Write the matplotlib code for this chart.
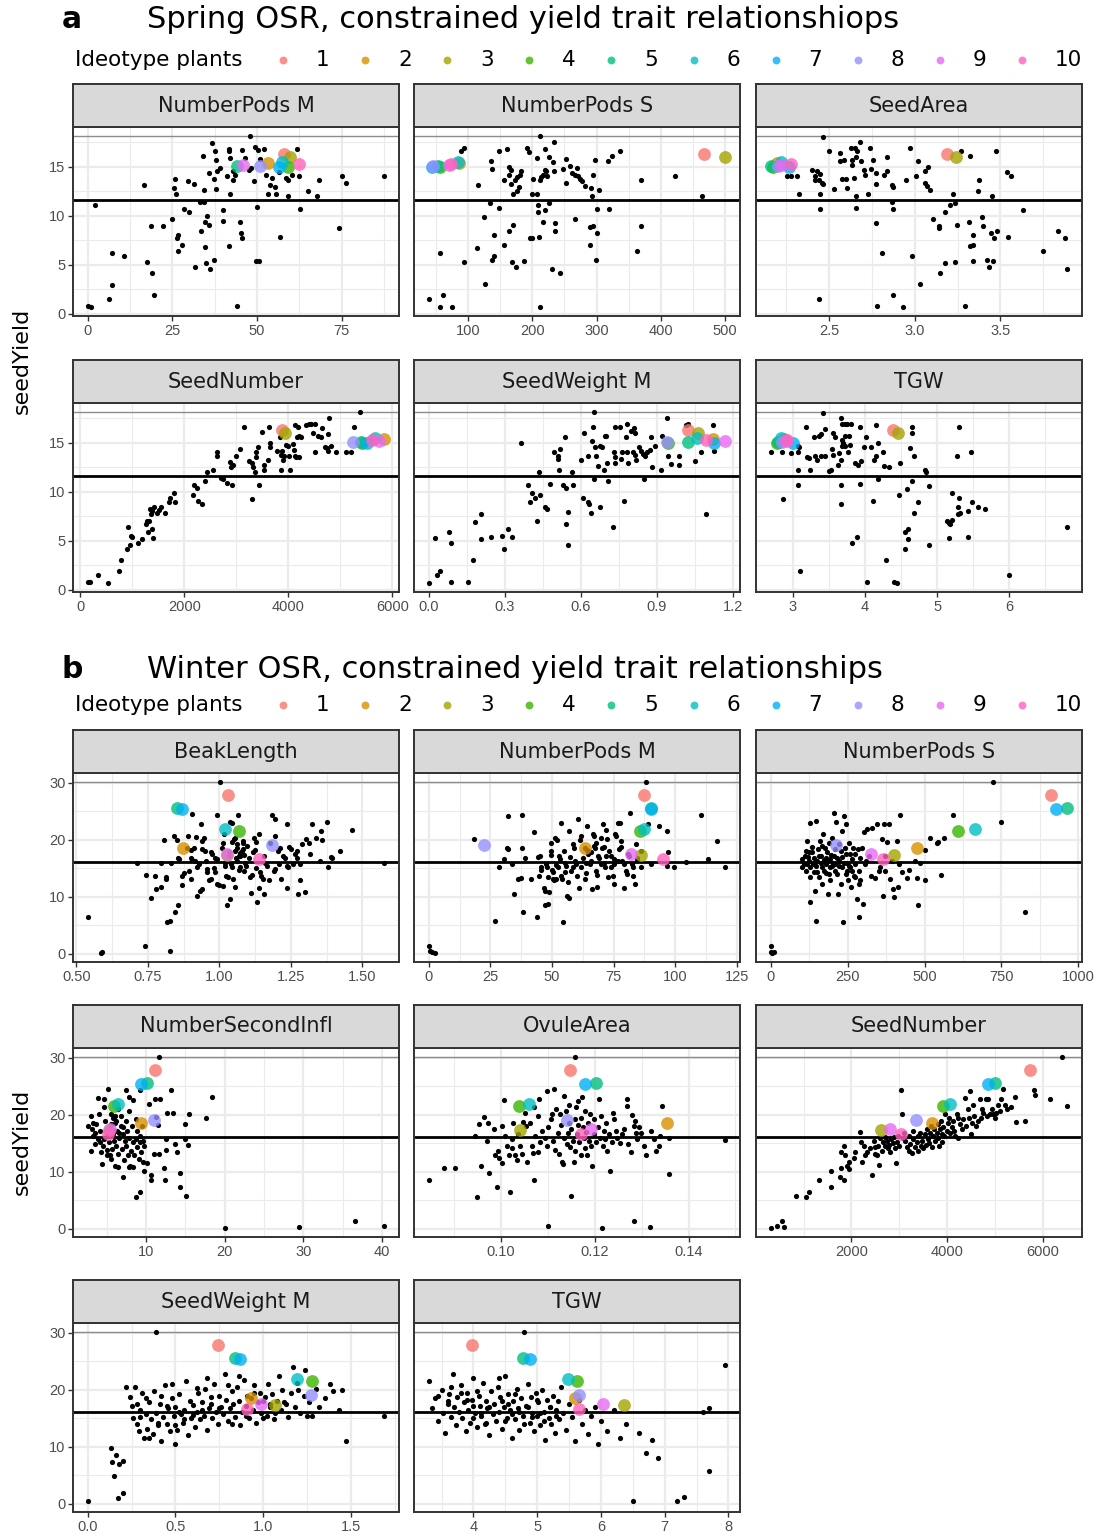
import matplotlib
matplotlib.use("Agg")
import matplotlib.pyplot as plt
import numpy as np

plt.rcParams['font.family'] = ['DejaVu Sans']

# ------------------------------------------------------------------ data
ideotype_labels = ['1', '2', '3', '4', '5', '6', '7', '8', '9', '10']
ideotype_colors = ['#F8766D', '#D89000', '#A3A500', '#39B600', '#00BF7D',
                   '#00BFC4', '#00B0F6', '#9590FF', '#E76BF3', '#FF62BC']

spring_title = "Spring OSR, constrained yield trait relationshiops"
winter_title = "Winter OSR, constrained yield trait relationships"
legend_title = "Ideotype plants"
y_label = "seedYield"

spring_yield_mean = 11.6
spring_yield_max = 18.2
winter_yield_mean = 16.2
winter_yield_max = 30.2

spring_yticks = [0, 5, 10, 15]
winter_yticks = [0, 10, 20, 30]

spring_ideotype_yield = [16.3, 15.4, 16.0, 15.0, 15.1, 15.5, 15.0, 15.1, 15.2, 15.3]
winter_ideotype_yield = [27.8, 18.5, 17.3, 21.5, 25.6, 21.9, 25.4, 19.1, 17.5, 16.6]

# ---- Spring panels: (trait, seedYield)
sp_podsM = [(0,0.8),(0.9,0.67),(2,11.1),(7.2,6.2),(7.2,2.9),(6.2,1.5),(10.7,5.9),(16.7,13.1),(17.5,5.3),(18.8,9.0),(19.1,4.2),(19.7,1.95),(22.2,9.0),(25,9.7),(25.7,13.8),(25.4,12.8),(26,12.2),(26.3,7.7),(26.6,8.0),(26.6,6.4),(27.8,7.0),(28.3,10.7),(29.6,13.6),(29.9,10.4),(31.3,13.3),(31.8,4.8),(33.2,11.4),(33.6,8.5),(34.1,16.1),(34.2,12.6),(34.3,11.4),(34.5,6.8),(34.7,9.4),(35,5.2),(35.3,10.0),(35.9,9.1),(36.2,4.6),(35.7,14.4),(36.7,17.4),(37.2,13.8),(37.2,5.5),(37.6,16.6),(37.8,15.7),(38,12.7),(38.2,14.6),(39.2,14.9),(39.9,9.5),(40.1,10.6),(41,14.1),(41.6,16.8),(41.8,16.6),(42.1,15.9),(42.1,12.2),(41.6,6.9),(42.8,14.6),(42.8,13.7),(43.6,14.2),(44.1,0.74),(45,9.4),(45.4,8.2),(45.7,7.7),(45.7,16.7),(46.4,15.9),(47.5,14.7),(48,18.2),(48.3,14.9),(49,13.6),(49.3,17.0),(49.6,5.4),(50.7,5.4),(50,10.9),(50.3,16.7),(51,15.8),(52.2,16.8),(52.6,14.2),(53.3,12.2),(53.9,13.1),(54.3,13.9),(55.3,12.9),(55.5,12.2),(56.6,14.5),(56.8,7.8),(58.6,13.9),(59.2,13.7),(59.3,12.0),(60.5,14.2),(61.8,16.8),(62.5,14.1),(62.8,10.7),(65.1,12.5),(67.8,12.0),(68.3,13.7),(74.2,8.8),(75,14.1),(76.3,13.4),(87.6,14.1)]
sp_podsM_ideo = [58.0, 53.3, 59.9, 59.3, 44.1, 57.5, 56.6, 50.9, 46.0, 62.4]

sp_podsS = [(39,1.5),(56.6,6.2),(61,1.95),(56.6,0.67),(74.5,0.67),(89.7,16.6),(93,16.9),(93,5.3),(115,13.1),(113.8,6.7),(125.5,9.9),(127,3.0),(136,15.6),(136.6,14.8),(134.5,11.3),(137,5.5),(140.7,5.9),(141,8.0),(148,10.8),(147.6,16.6),(156.6,13.7),(156,7.0),(160,16.8),(163.4,15.0),(163.4,8.5),(163.4,14.2),(167,14.7),(167,13.3),(170,9.1),(170,12.2),(169,5.3),(175,4.8),(172.4,13.7),(176,12.5),(176.6,14.0),(178.6,12.9),(180.7,14.2),(182.8,14.6),(187.6,5.4),(192,16.9),(194.5,16.5),(195.9,7.7),(199,7.7),(200,12.2),(201.4,13.8),(207.6,15.9),(207,12.2),(208.3,11.1),(208.3,10.4),(209.7,7.8),(211.7,18.2),(211.7,13.7),(213,14.0),(212.4,0.67),(216.6,14.2),(216.6,9.4),(219.3,16.8),(220,14.7),(219.3,10.6),(221.4,14.6),(223.4,14.1),(225.5,16.0),(225.5,11.3),(231,4.6),(232.4,15.5),(233.8,14.6),(234.5,17.5),(236,9.3),(236,8.4),(242.8,4.2),(248.3,14.8),(251.7,13.4),(253,15.8),(258,15.1),(261.4,14.4),(267,14.2),(267,9.7),(270,14.9),(271.7,14.1),(273.8,13.8),(276.6,13.6),(282,13.0),(289,8.9),(290.3,7.0),(292,12.8),(293,12.0),(294.5,14.2),(294.5,9.0),(298,15.7),(299,5.5),(300,10.7),(301,8.2),(303.4,12.6),(318,15.6),(320,10.7),(323.4,16.1),(336.6,16.6),(363,6.4),(369,13.7),(369,9.0),(422,14.1),(464,12.0)]
sp_podsS_ideo = [467, 86, 500, 57, 53, 84, 44, 46, 70, 74]

sp_seedArea = [(2.463,18.1),(2.498,16.6),(2.566,16.4),(2.566,15.6),(2.589,15.7),(2.628,16.9),(2.653,16.9),(2.662,16.6),(2.678,17.5),(2.633,15.7),(2.655,16.0),(2.688,15.6),(2.632,15.2),(2.703,14.7),(2.711,14.2),(2.74,16.9),(2.744,14.8),(2.755,15.7),(2.775,14.4),(2.836,16.0),(2.84,14.6),(2.82,14.2),(2.775,13.3),(2.643,13.9),(2.577,13.8),(2.6,13.8),(2.527,12.7),(2.603,12.8),(2.659,12.0),(2.73,12.2),(2.657,10.8),(2.775,9.3),(2.808,6.2),(2.866,13.1),(2.871,12.9),(2.868,11.4),(2.871,10.7),(2.875,1.95),(2.78,0.74),(2.933,0.64),(2.949,13.7),(2.972,16.9),(2.985,5.9),(3.007,14.1),(3.022,15.6),(3.032,3.0),(3.059,14.6),(3.078,15.0),(3.06,13.4),(3.07,13.0),(3.088,12.6),(3.109,9.7),(3.14,9.0),(3.144,8.8),(3.15,4.2),(3.175,10.4),(3.179,5.2),(3.208,11.1),(3.223,12.2),(3.233,11.3),(3.233,5.3),(3.245,9.1),(3.272,16.6),(3.293,0.74),(3.322,16.1),(3.316,9.4),(3.339,8.0),(3.324,6.9),(3.34,7.0),(3.339,5.4),(3.374,13.7),(3.372,12.5),(3.394,9.9),(3.401,9.0),(3.423,5.5),(3.436,4.8),(3.459,5.4),(3.446,8.2),(3.465,7.7),(3.481,8.5),(3.45,12.0),(3.473,16.6),(3.541,14.5),(3.562,14.1),(3.543,7.8),(3.63,10.6),(3.746,6.4),(3.837,8.5),(3.875,7.7),(3.89,4.6),(2.44,1.5),(2.446,10.7),(2.45,12.2),(2.401,14.7),(2.43,14.6),(2.45,14.3),(2.42,14.1),(2.42,13.7),(2.44,13.7),(2.46,13.4),(2.465,13.3),(2.256,14.1),(2.275,14.1),(2.314,14.1),(2.326,12.2)]
sp_seedArea_ideo = [3.19, 2.194, 3.239, 2.171, 2.16, 2.221, 2.266, 2.2, 2.217, 2.276]

sp_seedNumber = [(146,0.74),(190,0.74),(349,1.5),(540,0.67),(749,1.95),(781,3.0),(908,4.2),(959,4.6),(927,6.4),(972,5.5),(1003,5.4),(1111,4.8),(1194,5.2),(1257,6.7),(1289,7.0),(1321,7.0),(1302,5.9),(1384,6.2),(1403,5.3),(1334,8.2),(1353,7.7),(1384,8.0),(1416,8.5),(1467,7.8),(1511,8.1),(1556,8.4),(1638,7.8),(1702,9.0),(1734,9.4),(1797,9.9),(1829,9.0),(2165,9.7),(2191,10.7),(2242,10.4),(2273,9.1),(2337,8.8),(2400,11.1),(2432,12.0),(2553,12.2),(2623,14.1),(2629,13.7),(2699,11.4),(2737,11.3),(2826,10.9),(2908,10.7),(2877,13.0),(2889,12.5),(2927,12.7),(2991,13.7),(3067,14.4),(3143,16.6),(3245,13.1),(3296,12.9),(3321,12.5),(3308,9.3),(3353,12.0),(3372,14.1),(3385,13.6),(3416,14.6),(3429,10.7),(3499,16.1),(3524,12.7),(3531,12.2),(3613,13.3),(3626,16.6),(3638,15.0),(3657,14.6),(3778,14.2),(3842,15.6),(3855,13.8),(3867,12.2),(3880,14.2),(3893,13.3),(3924,13.7),(3956,14.8),(3988,14.7),(4007,13.7),(4032,12.2),(4083,14.9),(4102,14.3),(4128,13.7),(4147,13.6),(4159,15.6),(4134,16.8),(4178,16.6),(4210,15.7),(4242,15.6),(4210,13.6),(4337,16.8),(4388,16.9),(4432,16.9),(4515,16.9),(4477,16.0),(4508,14.1),(4578,15.7),(4623,15.6),(4655,16.5),(4705,14.6),(4750,14.5),(4756,14.2),(4769,15.9),(4782,17.5),(4813,14.7),(4909,14.1),(5100,14.1),(5195,14.1),(5264,16.6),(5372,18.2)]
sp_seedNumber_ideo = [3880, 5842, 3943, 5417, 5391, 5670, 5512, 5239, 5734, 5607]

sp_seedWeightM = [(0,0.67),(0.034,1.5),(0.046,1.95),(0.024,5.3),(0.079,5.9),(0.088,4.8),(0.088,0.77),(0.155,0.74),(0.173,3.0),(0.181,6.9),(0.207,7.7),(0.207,5.2),(0.247,5.4),(0.29,5.5),(0.299,4.2),(0.312,6.2),(0.33,5.4),(0.365,15.0),(0.39,10.7),(0.407,9.9),(0.4,9.0),(0.42,9.4),(0.438,9.7),(0.426,7.0),(0.435,12.0),(0.459,8.5),(0.466,8.2),(0.478,10.8),(0.496,14.1),(0.509,13.7),(0.511,13.4),(0.519,14.4),(0.514,12.2),(0.531,10.7),(0.542,10.4),(0.538,15.6),(0.544,6.7),(0.548,7.9),(0.548,4.6),(0.564,12.0),(0.568,10.7),(0.603,13.3),(0.609,9.4),(0.612,16.0),(0.63,13.7),(0.627,9.0),(0.633,8.8),(0.64,7.8),(0.645,15.2),(0.649,16.6),(0.653,18.2),(0.656,14.6),(0.662,13.7),(0.653,11.3),(0.669,12.6),(0.677,8.5),(0.677,14.7),(0.685,14.6),(0.693,12.2),(0.695,15.7),(0.702,15.7),(0.706,12.9),(0.708,11.1),(0.729,6.4),(0.732,14.1),(0.734,13.6),(0.734,12.9),(0.736,16.6),(0.756,16.6),(0.765,14.1),(0.761,13.4),(0.771,9.1),(0.782,16.9),(0.78,15.6),(0.784,14.1),(0.787,12.9),(0.8,16.2),(0.81,16.5),(0.813,16.0),(0.807,14.1),(0.813,13.8),(0.82,13.3),(0.83,14.6),(0.839,14.2),(0.847,13.9),(0.849,11.3),(0.856,13.7),(0.862,14.1),(0.876,15.6),(0.875,14.3),(0.881,12.5),(0.894,14.7),(0.918,12.2),(0.94,17.5),(0.944,13.7),(0.957,12.8),(0.99,13.7),(0.99,12.7),(1.016,16.8),(1.025,16.9),(1.052,13.1),(1.075,14.1),(1.095,7.7),(1.121,16.8),(1.125,14.2),(0.92,15.7)]
sp_seedWeightM_ideo = [1.026, 1.121, 1.062, 0.945, 1.023, 1.06, 1.128, 0.943, 1.171, 1.095]

sp_tgw = [(2.70,14.1),(2.853,14.1),(2.977,14.0),(2.862,9.3),(3.07,14.7),(3.09,14.6),(3.08,14.1),(3.07,12.2),(3.08,10.7),(3.106,1.9),(3.184,16.6),(3.207,13.6),(3.23,13.5),(3.24,12.2),(3.3,15.6),(3.36,15.7),(3.4,15.9),(3.45,16.4),(3.42,18.1),(3.31,13.7),(3.34,13.3),(3.39,13.7),(3.45,13.7),(3.5,12.1),(3.53,12.2),(3.56,16.0),(3.59,15.6),(3.54,14.4),(3.56,13.8),(3.64,14.0),(3.67,13.3),(3.634,12.7),(3.67,17.5),(3.69,16.9),(3.72,16.9),(3.76,16.9),(3.81,16.9),(3.69,15.3),(3.70,15.0),(3.69,14.7),(3.72,14.7),(3.72,15.7),(3.78,15.7),(3.79,14.8),(3.77,14.1),(3.67,10.7),(3.67,8.8),(3.86,12.9),(3.91,12.7),(3.94,16.6),(3.95,13.1),(3.94,10.8),(3.82,4.8),(3.89,5.4),(3.99,14.6),(4.02,15.6),(4.03,0.74),(4.08,14.6),(4.12,9.1),(4.13,13.3),(4.15,13.7),(4.15,16.8),(4.18,15.0),(4.18,11.3),(4.25,14.1),(4.27,12.6),(4.34,12.5),(4.29,3.0),(4.41,0.8),(4.45,0.67),(4.48,9.7),(4.49,12.9),(4.55,5.9),(4.6,6.2),(4.55,4.2),(4.6,5.2),(4.59,10.3),(4.63,14.5),(4.68,13.7),(4.65,16.6),(4.65,16.0),(4.65,11.1),(4.68,7.8),(4.74,9.0),(4.83,12.2),(4.85,12.0),(4.89,10.6),(4.89,4.6),(5.14,7.0),(5.17,6.8),(5.2,7.1),(5.18,6.7),(5.17,5.3),(5.21,9.9),(5.28,13.7),(5.3,16.6),(5.31,9.4),(5.29,8.5),(5.29,7.7),(5.32,7.8),(5.43,8.0),(5.43,5.4),(5.47,14.1),(5.48,9.0),(5.56,8.5),(5.66,8.2),(6.0,1.5),(6.8,6.4)]
sp_tgw_ideo = [4.39, 2.885, 4.46, 2.78, 2.8, 2.84, 3.0, 2.86, 2.91, 2.93]

# ---- Winter panels
wi_beak = [(0.54,6.4),(0.585,0.23),(0.59,0.35),(0.741,1.4),(0.826,0.5),(0.816,5.6),(0.828,5.7),(0.846,7.3),(0.855,8.6),(0.76,9.8),(0.777,11.4),(0.797,11.8),(0.813,13.1),(0.813,13.5),(0.743,13.8),(0.712,15.9),(0.795,15.9),(0.83,15.9),(0.775,13.7),(0.805,19.9),(0.842,20.6),(0.853,19.9),(0.855,16.9),(0.858,16.6),(0.87,13.7),(0.876,14.2),(0.87,12.0),(0.89,20.7),(0.905,24.6),(0.888,18.6),(0.9,18.2),(0.911,18.5),(0.9,16.9),(0.905,16.4),(0.913,16.3),(0.894,14.6),(0.9,13.1),(0.918,20.5),(0.92,10.2),(0.922,15.3),(0.93,15.7),(0.936,22.8),(0.94,19.8),(0.946,20.4),(0.94,18.4),(0.948,18.1),(0.932,11.1),(0.94,11.3),(0.952,16.3),(0.957,14.9),(0.957,14.3),(0.963,12.9),(0.969,13.1),(0.969,17.8),(0.975,17.5),(0.98,15.1),(0.986,14.3),(0.986,16.9),(0.99,16.6),(0.99,24.4),(0.99,12.3),(0.998,12.0),(1.003,30.2),(1.009,18.6),(1.012,19.5),(1.012,11.9),(1.015,21.0),(1.02,16.0),(1.018,15.5),(1.024,13.7),(1.03,13.4),(1.027,8.6),(1.032,17.8),(1.032,17.2),(1.036,9.6),(1.038,23.2),(1.044,23.0),(1.04,15.7),(1.044,15.2),(1.044,19.7),(1.047,13.1),(1.05,20.1),(1.053,20.4),(1.056,11.7),(1.056,18.1),(1.061,18.6),(1.061,19.2),(1.058,16.9),(1.061,16.3),(1.065,24.3),(1.067,14.7),(1.073,15.2),(1.073,17.2),(1.079,18.1),(1.081,19.8),(1.084,19.5),(1.087,14.6),(1.09,16.0),(1.094,15.5),(1.096,18.9),(1.105,16.8),(1.107,13.4),(1.113,13.9),(1.11,10.7),(1.117,17.8),(1.125,18.2),(1.122,20.4),(1.128,19.7),(1.128,15.1),(1.131,9.1),(1.137,11.6),(1.137,21.0),(1.142,14.3),(1.146,13.7),(1.152,13.1),(1.156,10.5),(1.16,16.0),(1.165,15.5),(1.155,17.2),(1.175,13.0),(1.176,19.5),(1.185,24.3),(1.196,23.6),(1.19,14.6),(1.195,14.9),(1.196,20.7),(1.206,18.1),(1.212,18.5),(1.21,15.7),(1.215,13.1),(1.221,17.2),(1.23,16.9),(1.235,22.7),(1.235,15.5),(1.24,15.2),(1.238,11.5),(1.245,18.8),(1.249,18.4),(1.256,15.7),(1.264,17.5),(1.27,16.9),(1.27,18.1),(1.276,10.5),(1.28,12.9),(1.282,15.7),(1.288,19.2),(1.3,10.9),(1.304,20.1),(1.314,19.5),(1.318,17.5),(1.322,22.8),(1.337,20.3),(1.35,16.3),(1.356,21.5),(1.36,19.9),(1.376,23.2),(1.38,15.3),(1.39,17.0),(1.392,16.8),(1.42,18.1),(1.464,21.7),(1.576,15.9),(1.067,17.2),(1.073,17.7),(1.081,18.4),(1.087,17.3)]
wi_beak_ideo = [1.029, 0.873, 1.025, 1.07, 0.853, 1.019, 0.87, 1.185, 1.027, 1.14]

wi_podsM = [(0,1.4),(0.3,0.5),(1.3,0.35),(2.4,0.1),(18.4,20.1),(26.9,5.7),(28.5,15.2),(30.5,16.7),(31.6,18.5),(32,18.4),(32,24.1),(33.9,15.7),(34.4,10.5),(36,13.1),(37.4,13.3),(37.9,18.5),(38,24.4),(38.4,7.3),(39,16.8),(41.4,13.1),(42.5,21.3),(44.1,6.4),(44.4,17.0),(45,17.2),(45.4,15.2),(45.7,14.7),(44.8,13.7),(46.6,11.6),(47,11.1),(47.3,8.6),(48.4,8.8),(47.7,15.7),(48.1,15.3),(48.7,10.8),(49.5,19.5),(49.5,18.1),(49.7,17.3),(50,14.7),(50.4,14.3),(50.4,13.1),(51,12.9),(51.3,20.4),(52.2,19.9),(51.7,15.6),(52.4,15.2),(52.7,17.2),(53.1,16.6),(53.5,23.0),(53.8,13.7),(54,13.1),(54.4,5.6),(54.8,18.1),(55.4,16.0),(55.8,15.5),(56.2,10.1),(56.7,9.8),(56.5,12.6),(57.1,21.5),(57.5,17.0),(57.8,14.6),(58.5,19.2),(58.9,18.6),(59.4,16.3),(59.8,15.7),(60.2,13.7),(60.5,23.6),(60.8,11.6),(61.2,19.9),(61.8,20.7),(61.8,15.2),(62.5,16.9),(63.2,13.1),(63.8,14.2),(64.2,22.4),(64.2,18.2),(64.8,17.5),(65.3,15.7),(65.9,16.3),(66.1,11.3),(66.5,21.0),(67.2,20.7),(66.9,18.9),(67.5,18.5),(67.9,14.6),(68.3,13.9),(68.3,11.7),(68.8,17.2),(69.2,16.9),(69.9,20.4),(70.6,22.7),(70.2,18.6),(71,18.8),(71.2,15.9),(71.6,15.2),(71.9,21.8),(72.3,20.1),(72.6,13.4),(73.3,18.1),(73.9,17.2),(74.6,13.7),(75,16.6),(75.3,15.7),(75.3,12.3),(75.5,21.1),(76.1,20.7),(76.6,23.0),(77.7,22.9),(77.3,18.4),(78,18.8),(78,19.8),(78.6,16.3),(79.3,15.7),(79.3,11.6),(80,14.6),(80.6,14.0),(80.9,17.5),(81.3,17.2),(81.7,24.7),(82.3,15.7),(82.7,15.3),(83,13.7),(83.6,12.2),(84,19.2),(84.4,16.4),(84.7,16.9),(86,15.2),(86.3,18.1),(88,30.2),(89,22.8),(90,15.7),(93.4,22.5),(96.8,21.5),(97,17.8),(96.8,15.5),(99.5,15.2),(104.2,16.2),(110.6,24.3),(113.3,16.6),(117,19.8),(120.3,15.3),(76.6,16.3),(69.9,15.7),(63.8,15.9),(58.5,15.2),(55.1,14.3),(51.7,13.1),(48.4,13.4),(73.9,15.2),(71.9,17.2),(65.9,17.8),(67.9,19.5),(63.2,18.6)]
wi_podsM_ideo = [87.4, 63.2, 86.3, 85.6, 90.3, 87.4, 90.0, 22.6, 82.0, 94.9]

wi_podsS = [(0,1.4),(0,0.4),(5,0.2),(11,0.4),(100,15.3),(108,15.7),(113,18.1),(115,14.6),(119,19.8),(122,17.0),(124,16.3),(126,13.4),(129,23.0),(129,9.1),(135,18.8),(135,17.8),(137,15.7),(140,14.3),(144,11.1),(146,23.3),(148,5.8),(151,16.3),(154,18.4),(156,13.4),(159,19.8),(162,17.2),(165,15.2),(167,12.3),(169,21.0),(173,16.4),(176,18.6),(178,14.1),(181,16.9),(183,17.8),(187,10.5),(189,19.5),(191,15.2),(194,12.9),(197,17.4),(200,20.4),(202,16.0),(205,24.7),(208,18.4),(210,14.6),(213,23.1),(216,16.8),(219,10.5),(221,19.2),(223,15.5),(227,12.2),(230,21.5),(232,17.0),(235,5.6),(237,24.1),(241,18.5),(243,14.0),(245,22.8),(248,16.0),(251,13.0),(254,19.5),(256,17.6),(259,15.2),(262,11.7),(264,16.6),(267,18.6),(270,13.7),(273,17.5),(275,15.7),(281,9.6),(284,18.4),(286,14.6),(288,12.3),(291,16.9),(297,18.6),(299,8.7),(302,21.3),(305,15.7),(286,6.4),(308,16.3),(313,21.9),(318,17.2),(327,13.7),(329,22.1),(340,13.3),(345,22.7),(351,14.6),(356,15.2),(361,20.1),(364,10.2),(367,22.8),(370,17.2),(372,14.6),(378,19.7),(383,22.8),(388,13.1),(394,16.3),(399,11.4),(402,10.0),(410,19.8),(415,11.7),(418,15.7),(421,24.4),(426,14.3),(442,13.3),(448,14.7),(469,16.3),(475,13.3),(478,8.5),(486,15.9),(502,18.2),(502,13.0),(518,20.4),(540,19.5),(545,19.7),(554,13.9),(563,20.4),(593,24.3),(748,23.1),(723,30.2),(828,7.3),(103,16.6),(111,17.2),(119,15.7),(124,17.8),(129,15.2),(140,16.9),(146,15.5),(151,14.3),(156,17.2),(162,16.0),(167,18.9),(173,14.6),(178,15.7),(183,16.3),(189,14.0),(194,16.6),(200,15.5),(205,17.2),(210,15.7),(216,14.0),(221,16.3),(227,18.1),(232,15.2),(237,16.0),(243,17.5),(248,14.6),(254,15.5),(264,14.6),(275,13.4),(291,12.9)]
wi_podsS_ideo = [910, 477, 400, 610, 964, 664, 929, 213, 325, 364]

wi_secInfl = [(20.1,0.1),(29.5,0.35),(36.6,1.4),(40.3,0.5),(11.6,30.2),(13.2,24.4),(18.4,23.1),(17.6,19.5),(15.0,18.4),(15.5,20.1),(15.3,14.7),(15.0,15.7),(15.1,5.7),(14.3,7.4),(14.3,9.8),(13.9,13.4),(13.7,14.8),(13.4,20.4),(12.7,20.4),(12.5,15.7),(12.5,13.9),(12.3,10.7),(12.4,8.6),(11.8,22.8),(11.1,22.8),(11.7,13.1),(11.5,18.2),(11.3,19.7),(11.0,13.1),(10.7,8.6),(10.7,9.4),(10.4,21.9),(10.1,11.6),(9.8,10.1),(9.6,11.7),(9.2,6.4),(8.7,5.6),(9.2,24.3),(8.4,22.6),(7.9,23.1),(7.5,24.3),(7.1,9.1),(5.2,24.6),(4.7,22.8),(3.9,23.0),(2.6,18.0),(3.0,19.8),(3.2,16.3),(3.0,13.7),(3.5,14.9),(3.7,18.4),(3.9,15.7),(4.0,20.1),(4.2,17.2),(4.4,11.3),(4.5,14.6),(4.7,21.3),(4.8,18.9),(5.0,16.3),(5.1,12.9),(5.3,15.2),(5.4,17.8),(5.5,20.1),(5.6,12.3),(5.7,14.0),(5.8,16.6),(5.9,15.5),(6.0,11.1),(6.1,18.6),(6.2,14.6),(6.3,17.2),(6.4,21.0),(6.5,13.1),(6.6,15.9),(6.8,18.1),(6.8,19.8),(6.9,14.0),(7.1,16.6),(7.2,12.0),(7.3,15.5),(7.4,18.9),(7.5,14.6),(7.6,17.2),(7.7,12.9),(7.8,20.7),(7.9,16.0),(8.0,11.1),(8.1,13.7),(8.2,18.1),(8.3,15.2),(8.4,10.8),(8.5,12.9),(8.7,19.2),(8.7,15.7),(8.9,14.3),(8.9,17.2),(9.1,12.3),(9.2,15.2),(9.3,16.3),(9.4,13.5),(9.5,18.1),(9.6,15.5),(9.7,14.6),(5.2,17.5),(5.6,18.4),(6.0,17.2),(6.2,18.9),(5.8,19.5),(6.6,16.9),(7.1,17.8),(5.0,13.9),(5.4,12.9),(4.3,13.4),(4.7,15.7),(4.1,15.2),(3.5,16.9),(3.1,17.5),(3.3,18.6),(6.4,10.8),(6.0,19.8),(7.8,10.8)]
wi_secInfl_ideo = [11.1, 9.4, 5.3, 5.9, 10.1, 6.5, 9.4, 11.0, 5.4, 5.2]

wi_ovule = [(0.0846,8.6),(0.0879,10.7),(0.0901,10.7),(0.0949,5.6),(0.0958,11.0),(0.0975,9.8),(0.0991,7.3),(0.102,6.5),(0.107,8.6),(0.110,0.5),(0.115,5.7),(0.1215,0.1),(0.1284,1.4),(0.1317,0.35),(0.1358,9.6),(0.1478,15.6),(0.1157,30.2),(0.1344,21.5),(0.1268,22.8),(0.1268,21.5),(0.1114,24.5),(0.1097,24.1),(0.1082,22.8),(0.1007,22.6),(0.0944,16.3),(0.0952,18.4),(0.0963,19.7),(0.097,15.5),(0.0973,18.6),(0.0984,17.5),(0.0987,13.0),(0.0993,13.7),(0.0996,12.4),(0.1001,18.1),(0.1001,11.6),(0.1008,16.3),(0.1012,14.6),(0.1016,12.9),(0.1023,15.7),(0.1024,14.1),(0.1026,18.6),(0.103,13.0),(0.1033,12.0),(0.1037,16.6),(0.1040,14.6),(0.1044,13.1),(0.1047,18.8),(0.1051,20.4),(0.1054,18.1),(0.1056,11.7),(0.1061,18.5),(0.1065,14.6),(0.1068,13.3),(0.107,21.3),(0.1073,16.3),(0.1078,19.8),(0.1079,13.4),(0.1083,15.2),(0.1087,17.2),(0.1093,16.0),(0.1097,14.6),(0.11,17.8),(0.1107,19.2),(0.1109,20.1),(0.1111,15.5),(0.1116,13.9),(0.1118,21.0),(0.1121,16.9),(0.1123,13.1),(0.1125,20.1),(0.1128,18.2),(0.113,11.7),(0.1132,11.3),(0.1134,15.9),(0.1135,23.3),(0.1139,20.7),(0.1141,14.9),(0.1143,16.9),(0.1144,18.6),(0.1146,21.8),(0.1148,14.3),(0.115,17.5),(0.1153,15.5),(0.1155,11.7),(0.1157,19.2),(0.1158,13.7),(0.116,21.3),(0.1162,16.6),(0.1164,18.2),(0.1165,22.4),(0.1167,15.2),(0.117,13.0),(0.1171,19.5),(0.1172,23.1),(0.1174,17.8),(0.1176,15.9),(0.1178,14.1),(0.118,20.7),(0.1181,17.0),(0.1183,12.9),(0.1185,18.6),(0.1188,15.5),(0.119,20.1),(0.1192,14.6),(0.1195,11.1),(0.1198,16.6),(0.1199,19.2),(0.1202,15.2),(0.1206,17.8),(0.1208,22.8),(0.121,16.0),(0.1213,19.8),(0.1217,14.5),(0.1219,17.2),(0.1222,15.7),(0.1224,18.6),(0.1227,13.7),(0.1231,16.6),(0.1232,10.1),(0.1236,15.2),(0.1238,20.4),(0.124,19.2),(0.1245,17.2),(0.1248,16.0),(0.1254,15.1),(0.1259,16.6),(0.1262,17.5),(0.1271,14.9),(0.1277,13.5),(0.128,19.9),(0.1284,18.1),(0.1285,18.9),(0.1287,16.9),(0.1291,15.7),(0.1294,17.8),(0.1299,16.9),(0.1305,14.6),(0.131,13.0),(0.1319,17.2),(0.1326,15.7),(0.1331,13.6),(0.1337,14.6),(0.134,16.3),(0.1359,15.9)]
wi_ovule_ideo = [0.1147, 0.1354, 0.104, 0.1039, 0.1203, 0.1059, 0.118, 0.1141, 0.1192, 0.1171]

wi_seedNumber = [(313,0.2),(451,0.5),(542,1.4),(590,0.35),(847,5.7),(1042,5.6),(1111,6.4),(1319,8.6),(1563,10.1),(1563,7.3),(1757,9.1),(1771,10.7),(1771,13.4),(1854,14.6),(1854,8.5),(1861,12.9),(1910,11.1),(1944,11.7),(1958,10.5),(2049,12.4),(2083,13.4),(2188,17.0),(2208,15.2),(2222,11.7),(2257,14.6),(2285,12.9),(2326,13.4),(2396,14.1),(2431,9.5),(2465,15.5),(2486,13.1),(2500,14.3),(2535,12.9),(2556,14.6),(2583,11.2),(2604,16.0),(2639,13.7),(2660,15.2),(2694,14.6),(2708,16.2),(2743,15.5),(2764,14.1),(2792,14.7),(2812,13.4),(2833,15.7),(2861,15.1),(2882,16.2),(2903,14.1),(2930,11.6),(2951,15.2),(2972,16.3),(3000,14.6),(3028,24.4),(3055,20.2),(3069,15.9),(3090,16.9),(3125,15.5),(3160,14.3),(3194,13.7),(3208,16.3),(3229,14.9),(3264,13.3),(3285,15.7),(3298,17.2),(3333,14.3),(3368,15.2),(3389,16.3),(3403,13.7),(3437,16.9),(3458,14.6),(3486,15.5),(3507,14.2),(3542,16.6),(3556,14.7),(3576,17.5),(3597,15.7),(3625,15.1),(3646,16.9),(3667,18.1),(3681,14.3),(3715,16.3),(3736,17.6),(3750,15.5),(3785,16.9),(3806,18.4),(3819,15.9),(3833,14.6),(3854,17.5),(3875,18.9),(3889,16.6),(3903,15.2),(3923,17.8),(3944,16.3),(3958,20.1),(3993,17.2),(4028,18.6),(4042,19.5),(4062,16.9),(4097,17.8),(4132,18.9),(4153,17.2),(4167,16.3),(4201,20.1),(4222,15.9),(4236,19.5),(4271,18.4),(4306,17.5),(4340,19.2),(4375,23.0),(4389,18.1),(4431,21.0),(4458,19.5),(4479,24.1),(4500,16.6),(4514,18.6),(4549,21.7),(4569,19.8),(4597,18.1),(4639,18.9),(4687,22.8),(4708,19.5),(4736,21.0),(4757,20.4),(4806,22.7),(4826,19.8),(4861,22.8),(4896,20.1),(4931,21.0),(4965,20.1),(5000,19.5),(5035,20.4),(5069,21.7),(5104,20.7),(5139,22.8),(5174,24.6),(5222,21.8),(5264,21.0),(5333,21.3),(5431,23.1),(5451,18.8),(5625,19.0),(5819,24.3),(5847,23.5),(6160,22.8),(6403,30.2),(6514,21.5)]
wi_seedNumber_ideo = [5743, 3681, 2611, 3924, 5000, 4062, 4861, 3347, 2813, 3028]

wi_seedWeightM = [(0.0,0.5),(0.13,9.8),(0.14,7.3),(0.16,8.6),(0.18,7.0),(0.2,7.6),(0.15,4.9),(0.2,1.9),(0.17,1.0),(0.39,30.2),
    (0.22,20.5),(0.24,18.8),(0.25,17.2),(0.26,15.0),(0.28,14.0),(0.29,12.8),(0.3,16.5),(0.31,19.5),(0.32,11.5),(0.33,15.8),(0.34,13.2),(0.35,17.8),
    (0.36,14.8),(0.37,12.2),(0.38,19.8),(0.39,16.0),(0.4,13.8),(0.41,17.5),(0.42,11.0),(0.43,15.2),(0.44,20.8),(0.45,14.0),(0.46,16.8),(0.47,12.8),(0.48,18.5),(0.49,15.5),(0.5,10.5),(0.5,17.0),
    (0.51,13.0),(0.52,19.2),(0.53,15.8),(0.54,14.2),(0.55,16.5),(0.56,21.5),(0.57,12.0),(0.58,18.0),(0.59,15.0),(0.6,17.3),(0.61,13.5),(0.62,16.2),(0.63,19.5),(0.64,14.8),(0.65,17.8),
    (0.66,15.5),(0.67,20.2),(0.68,13.0),(0.69,16.8),(0.7,18.8),(0.71,15.0),(0.72,21.0),(0.73,16.2),(0.74,14.0),(0.75,19.0),(0.76,17.0),(0.77,15.8),(0.78,22.8),(0.79,18.2),(0.8,14.5),
    (0.81,16.8),(0.82,19.8),(0.83,17.5),(0.84,15.2),(0.85,20.5),(0.86,18.0),(0.87,13.8),(0.88,16.2),(0.89,21.8),(0.9,17.2),(0.91,19.0),(0.92,15.0),(0.93,18.5),(0.94,16.5),(0.95,20.8),(0.96,14.2),(0.97,17.8),(0.98,19.5),(0.99,16.0),
    (1.01,18.8),(1.02,15.5),(1.03,21.0),(1.04,17.0),(1.05,19.2),(1.06,14.8),(1.08,18.0),(1.09,22.5),(1.1,16.5),(1.11,20.0),(1.13,17.5),(1.14,15.2),(1.16,19.5),(1.17,24.0),(1.18,17.0),(1.19,21.2),
    (1.21,16.0),(1.23,19.0),(1.24,23.5),(1.26,17.8),(1.28,15.5),(1.3,20.2),(1.32,17.0),(1.35,18.5),(1.38,21.0),(1.4,19.8),(1.43,16.5),(1.45,20.0),(1.47,11.0),(1.69,15.5),
    (0.27,20.5),(0.28,17.5),(0.3,15.2),(0.33,18.5),(0.35,11.5),(0.4,14.2),(0.42,19.0),(0.45,17.2),(0.48,21.0),(0.5,13.8),(0.52,16.1),(0.55,14.9),(0.6,15.6),(0.62,20.3),(0.65,16.5),(0.68,22.0),(0.7,17.5),(0.75,16.8),(0.8,20.8),(0.82,14.0),(0.86,22.5),(0.9,15.5),(0.95,19.5),(1.0,18.0),(1.0,15.0),(1.04,17.5),(1.07,16.0),(1.12,17.8),(1.2,20.0),(1.25,15.5)]
wi_seedWeightM_ideo = [0.74, 0.93, 1.07, 1.28, 0.84, 1.19, 0.87, 1.27, 0.99, 0.91]

wi_tgw = [(3.3,21.5),(3.35,16.8),(3.4,18.5),(3.45,14.5),(3.5,20.0),(3.52,16.0),(3.55,12.5),(3.6,17.5),(3.62,19.2),(3.65,15.2),(3.68,22.8),(3.7,17.0),(3.72,13.8),(3.75,18.8),(3.78,16.2),
    (3.8,20.8),(3.82,15.0),(3.85,17.8),(3.88,12.8),(3.9,19.5),(3.92,16.5),(3.95,14.2),(3.98,18.2),(4.0,22.0),(4.02,16.0),(4.05,13.5),(4.08,19.0),(4.1,17.2),(4.12,15.5),(4.15,21.2),(4.18,14.0),(4.2,18.0),(4.22,16.8),(4.25,12.0),(4.28,19.8),
    (4.3,15.8),(4.32,17.5),(4.35,14.5),(4.38,20.5),(4.4,16.2),(4.42,18.8),(4.45,13.2),(4.48,17.0),(4.5,22.5),(4.52,15.0),(4.55,19.2),(4.58,16.5),(4.6,11.5),(4.62,18.0),(4.65,14.8),(4.68,20.2),(4.7,16.8),(4.72,13.0),(4.75,18.5),(4.78,15.5),
    (4.82,17.2),(4.85,21.0),(4.88,14.2),(4.9,18.8),(4.92,16.0),(4.95,12.8),(4.98,19.5),(5.0,15.5),(5.02,17.8),(5.05,13.8),(5.08,20.0),(5.1,16.2),(5.12,11.2),(5.15,18.2),(5.18,15.0),(5.2,17.0),(5.22,14.0),(5.25,19.0),(5.28,12.5),(5.3,16.5),
    (5.32,18.0),(5.35,14.8),(5.38,20.5),(5.4,16.0),(5.45,13.0),(5.5,17.5),(5.55,15.2),(5.6,11.0),(5.65,18.2),(5.7,14.0),(5.75,16.5),(5.8,12.2),(5.85,15.5),(5.9,17.0),(5.95,10.5),(6.0,14.5),(6.1,12.8),
    (6.2,16.5),(6.3,11.5),(6.4,14.0),(6.5,0.5),(6.6,12.5),(6.7,9.0),(6.8,11.2),(6.9,8.0),(7.2,0.6),(7.3,1.3),(7.6,16.2),(7.7,16.8),(7.7,5.8),(7.95,24.4),(4.8,30.2),
    (3.45,19.0),(3.6,18.0),(3.65,20.5),(3.8,19.5),(3.9,18.2),(4.0,17.2),(4.0,15.0),(4.05,19.8),(4.12,16.0),(4.2,14.2),(4.25,17.0),(4.4,22.0),(4.45,18.0),(4.5,14.5),(4.55,17.5),(4.6,15.8),(4.65,19.3),(4.72,16.2),(4.8,14.0),(4.85,17.0),(4.92,15.2),(5.0,18.2),(5.05,16.0),(5.1,14.5),(5.2,17.0),(5.3,15.5)]
wi_tgw_ideo = [3.97, 5.6, 6.37, 5.63, 4.78, 5.49, 4.88, 5.66, 6.04, 5.65]

# panel tables: (strip label, points, ideotype x, x ticks, x tick labels)
spring_panels = [
    ("NumberPods M", sp_podsM, sp_podsM_ideo, [0, 25, 50, 75], ["0", "25", "50", "75"]),
    ("NumberPods S", sp_podsS, sp_podsS_ideo, [100, 200, 300, 400, 500], ["100", "200", "300", "400", "500"]),
    ("SeedArea", sp_seedArea, sp_seedArea_ideo, [2.5, 3.0, 3.5], ["2.5", "3.0", "3.5"]),
    ("SeedNumber", sp_seedNumber, sp_seedNumber_ideo, [0, 2000, 4000, 6000], ["0", "2000", "4000", "6000"]),
    ("SeedWeight M", sp_seedWeightM, sp_seedWeightM_ideo, [0.0, 0.3, 0.6, 0.9, 1.2], ["0.0", "0.3", "0.6", "0.9", "1.2"]),
    ("TGW", sp_tgw, sp_tgw_ideo, [3, 4, 5, 6], ["3", "4", "5", "6"]),
]
winter_panels = [
    ("BeakLength", wi_beak, wi_beak_ideo, [0.5, 0.75, 1.0, 1.25, 1.5], ["0.50", "0.75", "1.00", "1.25", "1.50"]),
    ("NumberPods M", wi_podsM, wi_podsM_ideo, [0, 25, 50, 75, 100, 125], ["0", "25", "50", "75", "100", "125"]),
    ("NumberPods S", wi_podsS, wi_podsS_ideo, [0, 250, 500, 750, 1000], ["0", "250", "500", "750", "1000"]),
    ("NumberSecondInfl", wi_secInfl, wi_secInfl_ideo, [10, 20, 30, 40], ["10", "20", "30", "40"]),
    ("OvuleArea", wi_ovule, wi_ovule_ideo, [0.10, 0.12, 0.14], ["0.10", "0.12", "0.14"]),
    ("SeedNumber", wi_seedNumber, wi_seedNumber_ideo, [2000, 4000, 6000], ["2000", "4000", "6000"]),
    ("SeedWeight M", wi_seedWeightM, wi_seedWeightM_ideo, [0.0, 0.5, 1.0, 1.5], ["0.0", "0.5", "1.0", "1.5"]),
    ("TGW", wi_tgw, wi_tgw_ideo, [4, 5, 6, 7, 8], ["4", "5", "6", "7", "8"]),
]

# ------------------------------------------------------------------ layout (pixels)
W, H = 1112, 1540
fig = plt.figure(figsize=(W / 100, H / 100), dpi=100)
fig.patch.set_facecolor('white')

COLS = [(73, 399), (414, 740), (756, 1082)]
STRIP_H = 43
PANEL_H = 189

def frac(x0, y0, x1, y1):
    return [x0 / W, 1 - y1 / H, (x1 - x0) / W, (y1 - y0) / H]

ov = fig.add_axes([0, 0, 1, 1])
ov.set_xlim(0, W)
ov.set_ylim(H, 0)
ov.axis('off')

GRID = '#EBEBEB'
BORDER = '#333333'
TICKC = '#4D4D4D'


def minor_positions(ticks, lo, hi):
    ticks = list(ticks)
    step = ticks[1] - ticks[0]
    out = []
    t = ticks[0] - step / 2
    while t <= hi:
        if t >= lo:
            out.append(t)
        t += step
    return out


def season_ylim(panels, ideo_y, ymax):
    ys = [p[1] for pan in panels for p in pan[1]] + list(ideo_y) + [ymax]
    lo, hi = min(ys), max(ys)
    pad = 0.05 * (hi - lo)
    return lo - pad, hi + pad


def draw_panel(col, strip_top, label, pts, ideo_x, ideo_y, xticks, xlabels,
               yticks, ylim, ymean, ymax, show_y):
    x0, x1 = COLS[col]
    plot_top = strip_top + STRIP_H
    ax = fig.add_axes(frac(x0, plot_top, x1, plot_top + PANEL_H))
    sx = fig.add_axes(frac(x0, strip_top, x1, plot_top))

    # strip
    sx.set_facecolor('#D9D9D9')
    sx.set_xticks([]); sx.set_yticks([])
    for s in sx.spines.values():
        s.set_color(BORDER); s.set_linewidth(1.4)
    sx.text(0.5, 0.5, label, ha='center', va='center', fontsize=15,
            color='#1A1A1A', transform=sx.transAxes)

    arr = np.array(pts, dtype=float)
    xs, ys = arr[:, 0], arr[:, 1]
    allx = np.concatenate([xs, np.array(ideo_x, dtype=float)])
    lo, hi = allx.min(), allx.max()
    pad = 0.05 * (hi - lo)
    xlim = (lo - pad, hi + pad)

    ax.set_facecolor('white')
    ax.set_xlim(*xlim)
    ax.set_ylim(*ylim)
    ax.set_xticks(xticks)
    ax.set_xticklabels(xlabels)
    ax.set_xticks(minor_positions(xticks, *xlim), minor=True)
    ax.set_yticks(yticks)
    ax.set_yticks(minor_positions(yticks, *ylim), minor=True)
    ax.grid(which='major', color=GRID, lw=1.6, zorder=0)
    ax.grid(which='minor', color=GRID, lw=0.8, zorder=0)
    ax.set_axisbelow(True)
    ax.tick_params(which='minor', length=0)
    ax.tick_params(which='major', length=3.5, width=1.0, color=BORDER,
                   labelcolor=TICKC, labelsize=10, pad=2)
    for t in ax.get_xticklabels() + ax.get_yticklabels():
        t.set_fontfamily(['Liberation Sans', 'DejaVu Sans'])
        t.set_fontsize(10.5)
    if not show_y:
        ax.tick_params(axis='y', left=False, labelleft=False)
    for s in ax.spines.values():
        s.set_color(BORDER); s.set_linewidth(1.4)

    ax.axhline(ymax, color='#8C8C8C', lw=1.0, zorder=1)
    ax.axhline(ymean, color='black', lw=2.0, zorder=2)
    ax.scatter(xs, ys, s=14, color='black', linewidths=0, zorder=3)
    for xi, yi, c in zip(ideo_x, ideo_y, ideotype_colors):
        ax.scatter([xi], [yi], s=85, color=c, alpha=0.8, linewidths=0, zorder=4)


def draw_header(letter, title, y_title, y_leg):
    ov.text(62, y_title, letter, fontsize=21.5, fontweight='bold', ha='left', va='center')
    ov.text(147, y_title, title, fontsize=22, ha='left', va='center', color='black')
    ov.text(75, y_leg, legend_title, fontsize=15.5, ha='left', va='center', color='black')
    for i, (lab, c) in enumerate(zip(ideotype_labels, ideotype_colors)):
        dx = 283 + i * 82.1
        ov.scatter([dx], [y_leg], s=32, color=c, alpha=0.8, linewidths=0)
        ov.text(dx + 33, y_leg, lab, fontsize=15.5, ha='left', va='center', color='black')


# ---- spring
draw_header('a', spring_title, 20, 60)
sp_ylim = season_ylim(spring_panels, spring_ideotype_yield, spring_yield_max)
sp_rows = [84, 360]
for i, (lab, pts, ix, xt, xl) in enumerate(spring_panels):
    r, c = divmod(i, 3)
    draw_panel(c, sp_rows[r], lab, pts, ix, spring_ideotype_yield, xt, xl,
               spring_yticks, sp_ylim, spring_yield_mean, spring_yield_max, c == 0)
ov.text(22, 361, y_label, rotation=90, fontsize=16, ha='center', va='center')

# ---- winter
draw_header('b', winter_title, 670, 705)
wi_ylim = season_ylim(winter_panels, winter_ideotype_yield, winter_yield_max)
wi_rows = [730, 1005, 1280]
for i, (lab, pts, ix, xt, xl) in enumerate(winter_panels):
    r, c = divmod(i, 3)
    draw_panel(c, wi_rows[r], lab, pts, ix, winter_ideotype_yield, xt, xl,
               winter_yticks, wi_ylim, winter_yield_mean, winter_yield_max, c == 0)
ov.text(22, 1142, y_label, rotation=90, fontsize=16, ha='center', va='center')

fig.savefig('out.png', dpi=100, facecolor='white')
